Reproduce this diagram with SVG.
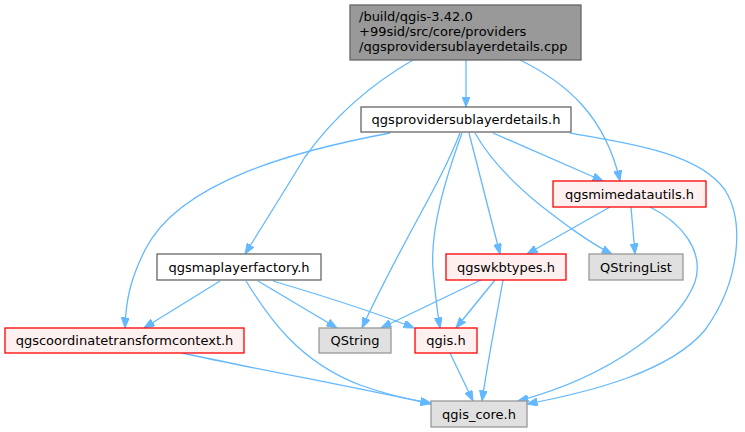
<svg xmlns="http://www.w3.org/2000/svg" width="745" height="432" viewBox="0 0 745 432">
<defs>
<marker id="ah" markerUnits="userSpaceOnUse" markerWidth="11" markerHeight="8" refX="10.5" refY="4" orient="auto">
<path d="M0,0 L10.5,4 L0,8 z" fill="#63b8ff" stroke="#63b8ff" stroke-width="1"/>
</marker>
</defs>
<style>
text{font-family:"DejaVu Sans","Liberation Sans",sans-serif;font-size:13px;fill:#000}
.c{text-anchor:middle}
.n rect{stroke-width:1.3}
.main rect{fill:#999999;stroke:#666666}
.plain rect{fill:#ffffff;stroke:#666666}
.red rect{fill:#fff0f0;stroke:#ff0000}
.ext rect{fill:#e0e0e0;stroke:#999999}
.e path{fill:none;stroke:#63b8ff;stroke-width:1.3;marker-end:url(#ah)}
</style>
<rect width="745" height="432" fill="#ffffff"/>
<g class="e" id="edges">
<path d="M466,60 L466,107"/>
<path d="M413,60 C375,82 335,115 305,157 C285,190 265,222 245,254"/>
<path d="M520,60 C565,82 605,115 620,181"/>
<path d="M390,133 C300,150 180,180 145,250 C130,280 126,300 125,328"/>
<path d="M460,133 C440,185 400,245 362,328"/>
<path d="M462,133 C445,180 430,230 433,270 C435,292 437,310 440,328"/>
<path d="M469,133 L500,254"/>
<path d="M475,133 C490,160 512,182 540,205 C562,222 588,242 612,254"/>
<path d="M493,133 L603,181"/>
<path d="M570,133 C640,145 700,155 725,190 C745,222 740,282 705,330 C670,372 590,392 527,404"/>
<path d="M610,207 L527,254"/>
<path d="M631,207 L635,254"/>
<path d="M650,207 C680,222 705,250 695,282 C680,322 615,375 518,401"/>
<path d="M481,280 L381,328"/>
<path d="M495,280 L456,328"/>
<path d="M503,280 C496,320 488,360 482,401"/>
<path d="M220,281 L144,328"/>
<path d="M258,281 L337,328"/>
<path d="M273,281 C320,295 370,310 414,328"/>
<path d="M246,281 C270,320 300,362 360,385 C385,394 405,399 431,403"/>
<path d="M182,353 C260,370 360,388 431,404"/>
<path d="M450,353 L473,401"/>
</g>
<g id="node_cpp" class="n main"><rect x="350" y="5" width="231" height="55"/><text x="359" y="20.5">/build/qgis-3.42.0</text><text x="359" y="35.5">+99sid/src/core/providers</text><text x="359" y="50.5">/qgsprovidersublayerdetails.cpp</text></g>
<g id="node_details" class="n plain"><rect x="361" y="107" width="210" height="25"/><text class="c" x="466" y="124">qgsprovidersublayerdetails.h</text></g>
<g id="node_mime" class="n red"><rect x="553" y="181" width="153" height="26"/><text class="c" x="629.5" y="198.5">qgsmimedatautils.h</text></g>
<g id="node_maplayerfactory" class="n plain"><rect x="157" y="254" width="164" height="26"/><text class="c" x="239" y="271.5">qgsmaplayerfactory.h</text></g>
<g id="node_wkbtypes" class="n red"><rect x="446" y="254" width="120" height="26"/><text class="c" x="506" y="271.5">qgswkbtypes.h</text></g>
<g id="node_qstringlist" class="n ext"><rect x="589" y="254" width="94" height="26"/><text class="c" x="636" y="271.5">QStringList</text></g>
<g id="node_coord" class="n red"><rect x="5" y="328" width="239" height="25"/><text class="c" x="124.5" y="345">qgscoordinatetransformcontext.h</text></g>
<g id="node_qstring" class="n ext"><rect x="319" y="328" width="72" height="25"/><text class="c" x="355" y="345">QString</text></g>
<g id="node_qgis" class="n red"><rect x="415" y="328" width="62" height="25"/><text class="c" x="446" y="345">qgis.h</text></g>
<g id="node_qgiscore" class="n ext"><rect x="431" y="401" width="96" height="26"/><text class="c" x="479" y="418.5">qgis_core.h</text></g>
</svg>
